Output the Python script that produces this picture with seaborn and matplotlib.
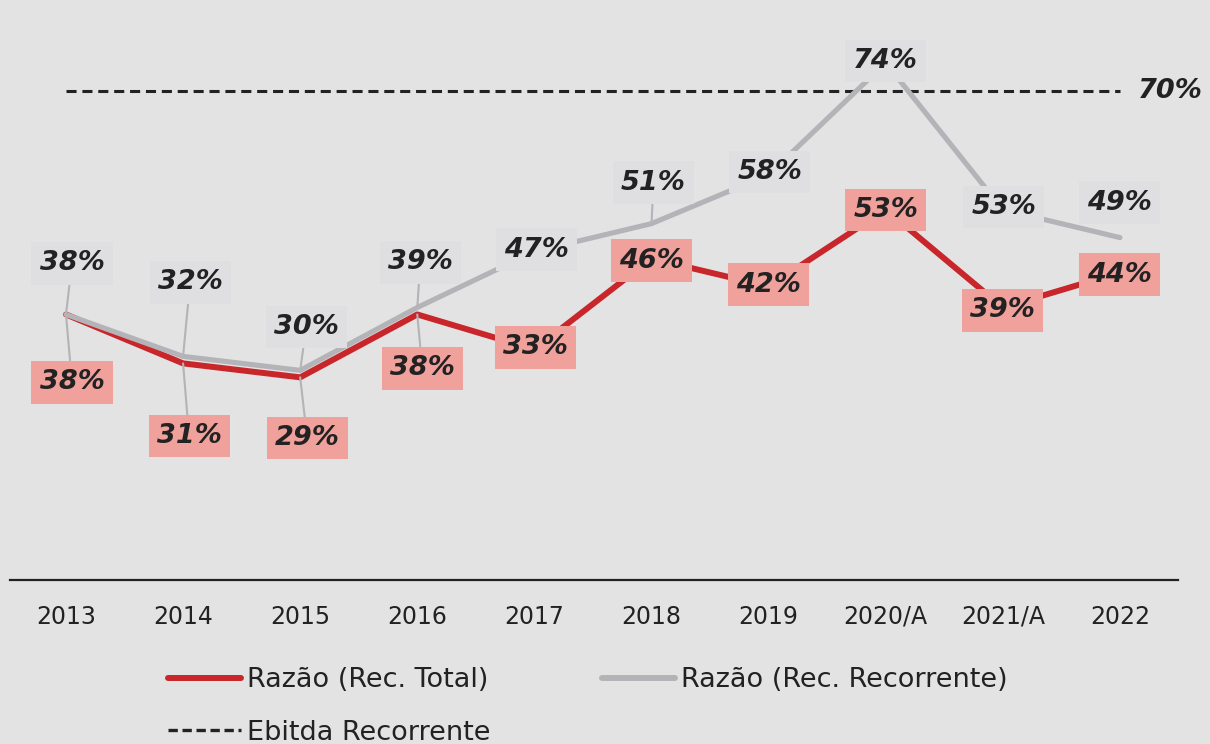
import matplotlib
matplotlib.use("Agg")
import matplotlib.pyplot as plt
import seaborn as sns
import pandas as pd
from matplotlib.lines import Line2D

################################################
#                 Data
################################################
years = ['2013', '2014', '2015', '2016', '2017', '2018', '2019', '2020/A', '2021/A', '2022']
razao_total = [38, 31, 29, 38, 33, 46, 42, 53, 39, 44]
razao_recorrente = [38, 32, 30, 39, 47, 51, 58, 74, 53, 49]
ebitda_recorrente = 70

# label offsets from the point (pixels) and whether a leader line is drawn
off_total = [(6, -68), (6, -73), (7, -61), (5, -54), (1, 2), (0, -2), (0, 2), (0, 0), (0, -3), (0, -2)]
off_rec = [(6, 51), (7, 74), (6, 43), (3, 45), (2, 2), (2, 41), (1, 3), (0, 2), (1, 3), (0, 35)]
lead_total = [True, True, True, True, False, False, False, False, False, False]
lead_rec = [True, True, True, True, False, True, False, False, False, False]

BG = '#e3e3e3'
RED = '#c8262a'
GRAY = '#b4b4b8'
PINK = '#f0a19b'
GRAYBOX = '#dfdfe1'
TXT = '#222222'

sns.set_theme(style='white', rc={'axes.facecolor': BG, 'figure.facecolor': BG})
plt.rcParams['font.family'] = ['DejaVu Sans']

df = pd.DataFrame({
    'pos': list(range(len(years))) * 2,
    'valor': razao_total + razao_recorrente,
    'serie': ['Razão (Rec. Total)'] * len(years) + ['Razão (Rec. Recorrente)'] * len(years),
})

fig = plt.figure(figsize=(12.1, 7.44), dpi=100)
ax = fig.add_axes([10 / 1210, 1 - 580 / 744, 1168 / 1210, 580 / 744])

sns.lineplot(data=df, x='pos', y='valor', hue='serie',
             palette={'Razão (Rec. Total)': RED, 'Razão (Rec. Recorrente)': GRAY},
             linewidth=4.2, legend=False, ax=ax, sort=False)
for ln, lw in zip(ax.get_lines(), [4.3, 3.7]):
    ln.set_linewidth(lw)
    ln.set_solid_capstyle('round')
ax.get_lines()[0].set_zorder(2)
ax.get_lines()[1].set_zorder(3)

# Ebitda reference line
ax.plot([0, len(years) - 1], [ebitda_recorrente, ebitda_recorrente], color=TXT,
        lw=2.2, dashes=(3.3, 1.9), zorder=2)
ax.annotate(f'{ebitda_recorrente}%', xy=(len(years) - 1, ebitda_recorrente), xytext=(50, 0),
            textcoords='offset pixels', ha='center', va='center', fontsize=19.5,
            fontweight='bold', fontstyle='italic', color=TXT, annotation_clip=False)


def put_labels(values, offsets, leaders, face):
    for i, v in enumerate(values):
        ax.annotate(f'{v}%', xy=(i, v), xytext=offsets[i], textcoords='offset pixels',
                    ha='center', va='center', fontsize=19.5, fontweight='bold',
                    fontstyle='italic', color=TXT, zorder=6,
                    bbox=dict(boxstyle='square,pad=0.3', fc=face, ec='none'),
                    arrowprops=dict(arrowstyle='-', color=GRAY, lw=1.5,
                                    shrinkA=0, shrinkB=0) if leaders[i] else None)


put_labels(razao_total, off_total, lead_total, PINK)
put_labels(razao_recorrente, off_rec, lead_rec, GRAYBOX)

ax.set_xlim(-0.478, 9.496)
ax.set_ylim(0, 83)
ax.set_xticks(range(len(years)))
ax.set_xticklabels(years)
ax.set_yticks([])
ax.set_xlabel('')
ax.set_ylabel('')
ax.tick_params(axis='x', length=0, pad=18, labelsize=17, labelcolor=TXT)
for s in ['left', 'right', 'top']:
    ax.spines[s].set_visible(False)
ax.spines['bottom'].set_color(TXT)
ax.spines['bottom'].set_linewidth(1.6)

handles = [
    Line2D([], [], color=RED, lw=4.3, solid_capstyle='round'),
    Line2D([], [], color=TXT, lw=2.4, dashes=(2.8, 1.4)),
    Line2D([], [], color=GRAY, lw=4.3, solid_capstyle='round'),
]
labels = ['Razão (Rec. Total)', 'Ebitda Recorrente', 'Razão (Rec. Recorrente)']
fig.legend(handles, labels, loc='upper left', bbox_to_anchor=(168 / 1210, 1 - 667 / 744),
           ncol=2, frameon=False, fontsize=19.5, handlelength=2.7, handletextpad=0.22,
           columnspacing=4.1, labelspacing=0.98, borderpad=0, borderaxespad=0,
           labelcolor=TXT)

fig.savefig('out.png', dpi=100, facecolor=BG)
